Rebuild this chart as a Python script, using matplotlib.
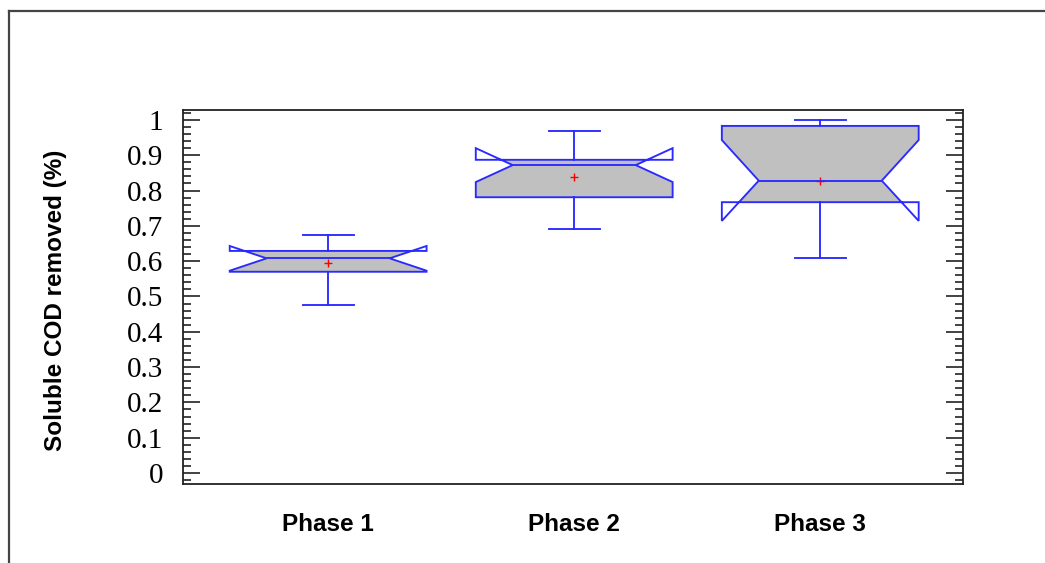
import matplotlib
matplotlib.use("Agg")
import matplotlib.pyplot as plt
from matplotlib.patches import Polygon, Rectangle
from matplotlib.lines import Line2D
from matplotlib.ticker import MultipleLocator, FuncFormatter

# box statistics (fraction removed)
phases = ["Phase 1", "Phase 2", "Phase 3"]
whisker_low = [0.476, 0.692, 0.608]
q1 = [0.570, 0.781, 0.767]
notch_low = [0.573, 0.824, 0.714]
median = [0.608, 0.872, 0.828]
notch_high = [0.643, 0.920, 0.943]
q3 = [0.629, 0.887, 0.983]
whisker_high = [0.674, 0.969, 1.000]
mean = [0.594, 0.839, 0.826]

BLUE = "#2a2aff"
GREY = "#c0c0c0"
HALF_W = 0.4
NOTCH_W = 0.25
CAP_W = 0.104
LW = 1.35

fig = plt.figure(figsize=(10.45, 5.63), dpi=100)
ax = fig.add_axes([0.1751, 0.1403, 0.7464, 0.6643])

for i, name in enumerate(phases):
    x = i + 1
    L, R = x - HALF_W, x + HALF_W
    iL, iR = x - NOTCH_W, x + NOTCH_W
    verts = [
        (L, q1[i]), (L, notch_low[i]), (iL, median[i]), (L, notch_high[i]), (L, q3[i]),
        (R, q3[i]), (R, notch_high[i]), (iR, median[i]), (R, notch_low[i]), (R, q1[i]),
    ]
    # grey fill only inside the interquartile box
    fill = Polygon(verts, closed=True, facecolor=GREY, edgecolor="none", zorder=1)
    ax.add_patch(fill)
    clip = Rectangle((L, q1[i]), R - L, q3[i] - q1[i], transform=ax.transData)
    fill.set_clip_path(clip)
    ax.add_patch(Polygon(verts, closed=True, facecolor="none", edgecolor=BLUE, lw=LW, zorder=3))

    ax.plot([x, x], [q3[i], whisker_high[i]], color=BLUE, lw=LW, zorder=3)
    ax.plot([x, x], [q1[i], whisker_low[i]], color=BLUE, lw=LW, zorder=3)
    ax.plot([x - CAP_W, x + CAP_W], [whisker_high[i]] * 2, color=BLUE, lw=LW, zorder=3)
    ax.plot([x - CAP_W, x + CAP_W], [whisker_low[i]] * 2, color=BLUE, lw=LW, zorder=3)
    ax.plot(x, mean[i], marker="+", color="red", ms=6, mew=1.0, zorder=2)
    ax.plot([iL, iR], [median[i]] * 2, color=BLUE, lw=LW, zorder=4)

ax.set_xlim(0.41, 3.58)
ax.set_ylim(-0.031, 1.028)

ax.yaxis.set_major_locator(MultipleLocator(0.1))
ax.yaxis.set_minor_locator(MultipleLocator(0.02))
ax.yaxis.set_major_formatter(FuncFormatter(lambda v, p: f"{v:g}"))
ax.tick_params(axis="y", which="both", direction="in", left=True, right=True,
               width=1.2, color="#222222")
ax.tick_params(axis="y", which="major", length=12, pad=14)
ax.tick_params(axis="y", which="minor", length=6)
for lab in ax.get_yticklabels():
    lab.set_fontfamily("Liberation Serif")
    lab.set_fontsize(21)

ax.set_xticks(range(1, len(phases) + 1))
ax.set_xticklabels(phases, fontfamily="Liberation Sans", fontweight="bold", fontsize=17.5)
ax.tick_params(axis="x", length=0, pad=21)

ax.set_ylabel("Soluble COD removed (%)", fontfamily="Liberation Sans",
              fontweight="bold", fontsize=17.5)
ax.yaxis.set_label_coords(-0.149, 0.49)

for sp in ax.spines.values():
    sp.set_linewidth(1.3)
    sp.set_color("#222222")

# outer frame (top and left edges)
fig.add_artist(Line2D([9 / 1045, 1.0], [1 - 11 / 563] * 2, color="#444444", lw=1.6))
fig.add_artist(Line2D([9 / 1045] * 2, [0.0, 1 - 11 / 563], color="#444444", lw=1.6))

fig.savefig("out.png", dpi=100)
